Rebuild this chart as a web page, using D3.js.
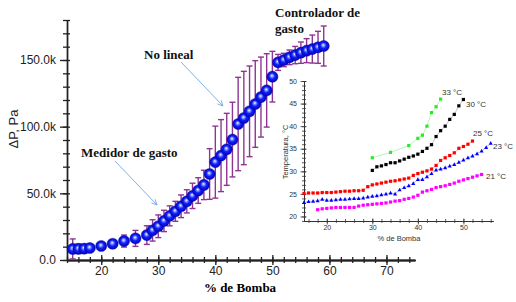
<!DOCTYPE html>
<html><head><meta charset="utf-8">
<script src="https://cdn.jsdelivr.net/npm/d3@7"></script>
<style>
html,body{margin:0;padding:0;background:#fff;}
svg{display:block;}
</style>
</head><body>
<svg id="c" width="516" height="302"></svg>
<script>
// ---------- main chart data ----------
const pumpPct = [15,16,17,18,20,22,24,26,28,29,30,31,32,33,34,35,36,37,38,39,40,41,42,43,44,45,46,47,48,49,50,51,52,53,54,55,56,57,58,59];
const deltaP  = [8.3,8.4,8.5,9.0,10.5,12.2,14.2,16.2,18.7,22.2,25.3,29.3,33.1,36.5,40.3,44.0,48.1,52.1,56.3,64.5,73.4,78.3,83.0,90.3,102,106.5,111.5,117,122.2,127.2,137.5,148.2,150,152,153.7,155.5,157,158.2,159.5,160.5].map(v=>v*1000);
const deltaPErr = [7.5,3.6,2.5,2.5,1.5,3,4.5,6,7,8,8.5,8,7.5,7.5,8.5,8.7,9.5,9.6,11,19,27,27,27,28,35,35,34,32.5,30,27.5,19,6,5,5.5,6.5,8,9,10.5,12,15].map(v=>v*1000);
const yTickValues = [0,50000,100000,150000];
const yTickLabels = ["0.0","50.0k","100.0k","150.0k"];
const xTickValues = [20,30,40,50,60,70];
const xTickLabels = ["20","30","40","50","60","70"];

// ---------- inset data ----------
const t21x = [18,19,20,21,22,23,24,25,26,27,28,29,30,31,32,33,34,35,36,37,38,39,40,41,42,43,44,45,46,47,48,49,50,51,52,53,54];
const t21y = [21.5,21.7,21.8,21.9,22.0,22.0,22.0,22.0,22.0,22.3,22.5,22.6,22.7,22.8,22.9,23.0,23.2,23.4,23.5,23.8,24.0,24.3,24.7,25.4,25.7,26.0,26.4,26.6,26.8,27.1,27.4,27.8,28.1,28.4,28.7,29.0,29.3];
const t23x = [15,16,17,18,19,20,21,22,23,24,25,26,27,28,29,30,31,32,33,34,35,36,37,38,39,40,41,42,43,44,45,46,47,48,49,50,51,52,53,54,55,56];
const t23y = [23.1,23.3,23.4,23.5,23.8,23.6,23.6,23.7,23.8,23.8,23.9,24.0,24.0,24.1,24.3,24.5,24.6,24.8,25.0,25.2,25.0,25.9,26.4,26.8,27.3,28.2,28.2,28.8,29.5,30.3,30.5,30.8,31.2,31.5,32.0,32.5,33.0,33.4,33.9,34.5,35.3,36.2];
const t25x = [15,16,17,18,19,20,21,22,23,24,25,26,27,28,29,30,31,32,33,34,35,36,37,38,39,40,41,42,43,44,45,46,47,48,49,50,51,52];
const t25y = [25.1,25.2,25.2,25.2,25.3,25.3,25.3,25.4,25.5,25.6,25.6,25.7,25.7,25.8,26.6,27.0,27.2,27.4,27.6,27.8,27.9,28.1,28.3,28.5,29.1,29.5,29.8,30.1,30.5,31.3,32.4,33.0,33.5,34.1,35.1,35.5,36.0,36.7];
const t30x = [30,31,32,33,34,35,36,37,38,39,40,41,42,43,44,45,46,47,48,49,50];
const t30y = [30.2,31.0,31.2,31.5,31.9,31.9,32.3,32.7,33.1,33.4,33.8,34.4,35.1,35.9,37.7,39.0,40.0,41.5,42.6,44.5,45.9];
const t33x = [30,34,38,40,41,42,43,44,45];
const t33y = [33.0,34.2,35.7,37.3,38.0,40.0,43.0,44.3,46.0];
const seriesNames = ["21 °C","23 °C","25 °C","30 °C","33 °C"];
const insetYTicks = [20,25,30,35,40,45,50];
const insetXTicks = [20,30,40,50];

const svg = d3.select("#c");
const defs = svg.append("defs");
const grad = defs.append("radialGradient").attr("id","ball")
  .attr("cx","50%").attr("cy","50%").attr("r","55%").attr("fx","45%").attr("fy","40%");
grad.append("stop").attr("offset","0%").attr("stop-color","#ffffff");
grad.append("stop").attr("offset","22%").attr("stop-color","#8090ff");
grad.append("stop").attr("offset","48%").attr("stop-color","#1020ff");
grad.append("stop").attr("offset","100%").attr("stop-color","#0000a0");

// ---------- main scales ----------
const x = d3.scaleLinear().domain([14,75]).range([67,415]);
const y = d3.scaleLinear().domain([0,180000]).range([260,20]);

const axCol = "#222";
// y axis
const yMinor = d3.range(0,180001,10000);
const gy = svg.append("g").attr("transform","translate(67,0)");
gy.call(d3.axisLeft(y).tickValues(yMinor).tickSize(4).tickFormat("").tickSizeOuter(0));
gy.append("g").call(d3.axisRight(y).tickValues(yMinor).tickSize(3).tickFormat("").tickSizeOuter(0));
gy.append("g").call(d3.axisLeft(y).tickValues(yTickValues).tickSize(7).tickSizeOuter(0)
  .tickFormat((d,i)=>yTickLabels[i]));
gy.selectAll("path.domain").attr("stroke",axCol).attr("stroke-width",1.3);
gy.selectAll("line").attr("stroke",axCol).attr("stroke-width",1.3);
gy.selectAll("text").attr("font-family","Liberation Sans, Arial, sans-serif").attr("font-size",12).attr("fill","#222").attr("dx",-1);

// x axis
const xMinor = d3.range(14,75.1,2);
const gx = svg.append("g").attr("transform","translate(0,260)");
gx.call(d3.axisBottom(x).tickValues(xMinor).tickSize(3).tickFormat("").tickSizeOuter(0));
gx.append("g").call(d3.axisTop(x).tickValues(xMinor).tickSize(3).tickFormat("").tickSizeOuter(0));
gx.append("g").call(d3.axisTop(x).tickValues(xTickValues).tickSize(5).tickFormat("").tickSizeOuter(0));
gx.append("g").call(d3.axisBottom(x).tickValues(xTickValues).tickSize(5).tickSizeOuter(0)
  .tickFormat((d,i)=>xTickLabels[i]));
gx.selectAll("path.domain").attr("stroke",axCol).attr("stroke-width",1.3);
gx.selectAll("line").attr("stroke",axCol).attr("stroke-width",1.3);
gx.selectAll("text").attr("font-family","Liberation Sans, Arial, sans-serif").attr("font-size",12).attr("fill","#222").attr("dy","0.55em");

// axis titles
svg.append("text").attr("transform","translate(18,129) rotate(-90)").attr("text-anchor","middle")
  .attr("font-family","Liberation Sans, Arial, sans-serif").attr("font-size",13).attr("fill","#222").text("ΔP, Pa");
svg.append("text").attr("x",240).attr("y",292).attr("text-anchor","middle")
  .attr("font-family","Liberation Serif, Times New Roman, serif").attr("font-weight","bold").attr("font-size",13).text("% de Bomba");

// error bars
const ebCol = "#8e3592";
const main = pumpPct.map((p,i)=>({p, v:deltaP[i], e:deltaPErr[i]}));
const eb = svg.append("g").attr("stroke",ebCol).attr("stroke-width",1.4).attr("fill","none");
main.forEach(d=>{
  const cx = x(d.p), y1 = y(d.v+d.e), y2 = y(Math.max(0,d.v-d.e));
  eb.append("line").attr("x1",cx).attr("x2",cx).attr("y1",y1).attr("y2",y2);
  eb.append("line").attr("x1",cx-3).attr("x2",cx+3).attr("y1",y1).attr("y2",y1);
  eb.append("line").attr("x1",cx-3).attr("x2",cx+3).attr("y1",y2).attr("y2",y2);
});
// spheres
svg.append("g").selectAll("circle").data(main).join("circle")
  .attr("cx",d=>x(d.p)).attr("cy",d=>y(d.v)).attr("r",5.6)
  .attr("fill","url(#ball)").attr("stroke","#0000c0").attr("stroke-width",0.4);

// annotations
const serif = "Liberation Serif, Times New Roman, serif";
const ann = svg.append("g").attr("font-family",serif).attr("font-weight","bold").attr("font-size",13).attr("fill","#111");
ann.append("text").attr("x",144).attr("y",59).text("No lineal");
ann.append("text").attr("x",81).attr("y",157).text("Medidor de gasto");
ann.append("text").attr("x",275).attr("y",17).text("Controlador de");
ann.append("text").attr("x",275).attr("y",33).text("gasto");

const arrCol = "#7fb2e5";
function arrow(x1,y1,x2,y2){
  svg.append("line").attr("x1",x1).attr("y1",y1).attr("x2",x2).attr("y2",y2).attr("stroke",arrCol).attr("stroke-width",1);
  const a = Math.atan2(y2-y1,x2-x1), L=6, w=0.45;
  svg.append("path").attr("d",`M${x2-L*Math.cos(a-w)},${y2-L*Math.sin(a-w)}L${x2},${y2}L${x2-L*Math.cos(a+w)},${y2-L*Math.sin(a+w)}`)
    .attr("stroke",arrCol).attr("fill","none").attr("stroke-width",1);
}
arrow(181,62,223,106);
arrow(115,161,157,205);

// ---------- inset ----------
const xi = d3.scaleLinear().domain([15,56.5]).range([304,493]);
const yi = d3.scaleLinear().domain([19,50]).range([221,81]);
const ig = svg.append("g");
const iyMinor = d3.range(19,50.1,1);
const giy = ig.append("g").attr("transform","translate(304,0)");
giy.call(d3.axisLeft(yi).tickValues(iyMinor).tickSize(2).tickFormat("").tickSizeOuter(0));
giy.append("g").call(d3.axisRight(yi).tickValues(iyMinor).tickSize(2).tickFormat("").tickSizeOuter(0));
giy.append("g").call(d3.axisLeft(yi).tickValues(insetYTicks).tickSize(3.5).tickSizeOuter(0));
giy.append("g").call(d3.axisRight(yi).tickValues(insetYTicks).tickSize(2.5).tickFormat("").tickSizeOuter(0));
const ixMinor = d3.range(16,56.1,2);
const gix = ig.append("g").attr("transform","translate(0,221)");
gix.call(d3.axisBottom(xi).tickValues(ixMinor).tickSize(2).tickFormat("").tickSizeOuter(0));
gix.append("g").call(d3.axisTop(xi).tickValues(ixMinor).tickSize(2).tickFormat("").tickSizeOuter(0));
gix.append("g").call(d3.axisBottom(xi).tickValues(insetXTicks).tickSize(3.5).tickSizeOuter(0));
gix.append("g").call(d3.axisTop(xi).tickValues(insetXTicks).tickSize(2.5).tickFormat("").tickSizeOuter(0));
ig.selectAll("path.domain").attr("stroke","#333").attr("stroke-width",0.9);
ig.selectAll("line").attr("stroke","#333").attr("stroke-width",0.8);
ig.selectAll("text").attr("font-family","Liberation Sans, Arial, sans-serif").attr("font-size",7).attr("fill","#333");
giy.selectAll("text").attr("dx",-0.5);
gix.selectAll("text").attr("dy","0.3em");

ig.append("text").attr("transform","translate(288,152) rotate(-90)").attr("text-anchor","middle")
  .attr("font-family","Liberation Sans, Arial, sans-serif").attr("font-size",7.5).attr("fill","#333").text("Temperatura, °C");
ig.append("text").attr("x",399).attr("y",241).attr("text-anchor","middle")
  .attr("font-family","Liberation Sans, Arial, sans-serif").attr("font-size",7.5).attr("fill","#333").text("% de Bomba");

const series = [
  {xs:t21x, ys:t21y, col:"#ff00ff", line:"#ffb0ff", shape:"sq", name:seriesNames[0], lx:486, ly:179},
  {xs:t23x, ys:t23y, col:"#0000ff", line:"#a0a0ff", shape:"tri", name:seriesNames[1], lx:493, ly:149},
  {xs:t25x, ys:t25y, col:"#ff0000", line:"#ffa0a0", shape:"sq", name:seriesNames[2], lx:473, ly:136},
  {xs:t30x, ys:t30y, col:"#000000", line:"#b0b0b0", shape:"sq", name:seriesNames[3], lx:466, ly:107},
  {xs:t33x, ys:t33y, col:"#22ee22", line:"#a8f0a8", shape:"sq", name:seriesNames[4], lx:442, ly:95}
];
const lineGen = d3.line().x(d=>xi(d[0])).y(d=>yi(d[1]));
series.forEach(s=>{
  const pts = s.xs.map((v,i)=>[v,s.ys[i]]);
  ig.append("path").attr("d",lineGen(pts)).attr("fill","none").attr("stroke",s.line).attr("stroke-width",0.8);
  const g = ig.append("g").attr("fill",s.col);
  pts.forEach(p=>{
    const cx = xi(p[0]), cy = yi(p[1]);
    if(s.shape==="sq") g.append("rect").attr("x",cx-1.6).attr("y",cy-1.6).attr("width",3.2).attr("height",3.2);
    else g.append("path").attr("d",`M${cx},${cy-2.2}L${cx+2},${cy+1.5}L${cx-2},${cy+1.5}Z`);
  });
  ig.append("text").attr("x",s.lx).attr("y",s.ly).attr("font-family","Liberation Sans, Arial, sans-serif")
    .attr("font-size",8).attr("fill","#333").text(s.name);
});
</script>
</body></html>
